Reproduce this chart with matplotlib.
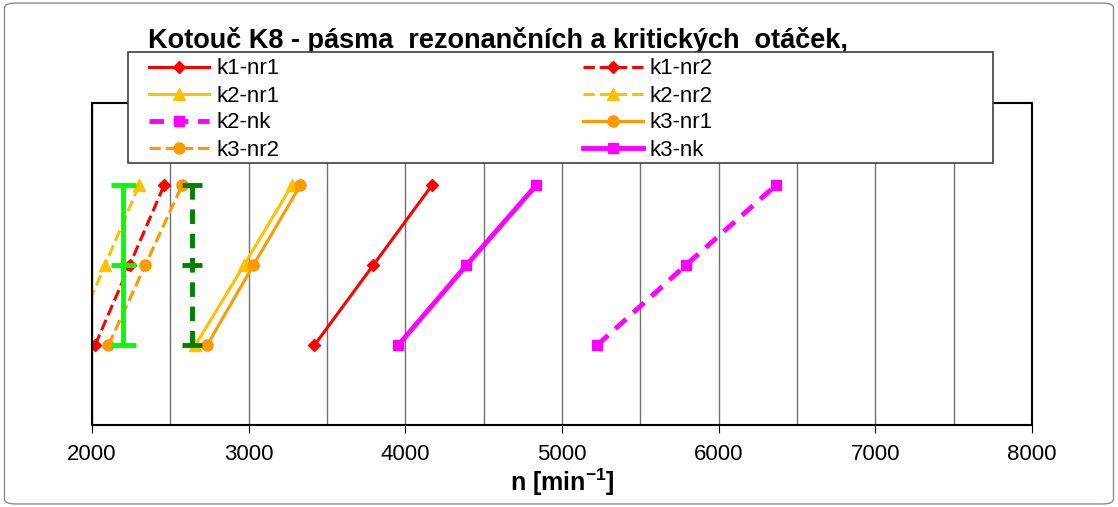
import matplotlib.pyplot as plt
from matplotlib.patches import FancyBboxPatch, Rectangle

plt.rcParams['font.family'] = ['Liberation Sans', 'DejaVu Sans']
plt.rcParams['mathtext.default'] = 'regular'

# hladiny (osa y bez popisků)
levels = [1, 2, 3]

# otáčky [min-1] pro jednotlivé řady
k1_nr1 = [3420, 3795, 4170]
k1_nr2 = [2020, 2240, 2460]
k2_nr1 = [2660, 2970, 3275]
k2_nr2 = [1865, 2083, 2300]
k2_nk = [5225, 5790, 6365]
k3_nr1 = [2735, 3030, 3330]
k3_nr2 = [2105, 2340, 2575]
k3_nk = [3955, 4390, 4835]

# svislé úsečky (provozní otáčky)
n_green = 2200
n_darkgreen = 2640

fig = plt.figure(figsize=(11.18, 5.07), dpi=100)
ax = fig.add_axes([92/1118, 1-425/507, (1032-92)/1118, (425-103)/507])

red = '#FF0000'
yellow = '#FFC000'
magenta = '#FF00FF'
orange = '#FF9900'

h = {}
h['k1-nr1'], = ax.plot(k1_nr1, levels, '-', color=red, lw=2.2, marker='D', ms=6)
h['k1-nr2'], = ax.plot(k1_nr2, levels, '--', color=red, lw=2.2, marker='D', ms=6)
h['k2-nr1'], = ax.plot(k2_nr1, levels, '-', color=yellow, lw=2.2, marker='^', ms=8)
h['k2-nr2'], = ax.plot(k2_nr2, levels, '--', color=yellow, lw=2.2, marker='^', ms=8)
h['k2-nk'], = ax.plot(k2_nk, levels, '--', color=magenta, lw=3.5, marker='s', ms=7, dashes=(3, 2))
h['k3-nr1'], = ax.plot(k3_nr1, levels, '-', color=orange, lw=2.2, marker='o', ms=8)
h['k3-nr2'], = ax.plot(k3_nr2, levels, '--', color=orange, lw=2.2, marker='o', ms=8)
h['k3-nk'], = ax.plot(k3_nk, levels, '-', color=magenta, lw=3.5, marker='s', ms=7)

ax.plot([n_green] * 3, levels, '-', color='#00FF00', lw=3.5,
        marker='_', ms=18, mew=3.5)
ax.plot([n_darkgreen] * 3, levels, '--', color='#008000', lw=3.5,
        marker='_', ms=14, mew=3.5, dashes=(3, 2))

ax.set_xlim(2000, 8000)
ax.set_ylim(0, 4.03)
ax.set_xticks(range(2000, 8001, 1000))
ax.set_xticks(range(2500, 8000, 1000), minor=True)
ax.set_yticks([])
ax.grid(True, axis='x', which='both', color='#707070', lw=1)
ax.tick_params(axis='x', which='major', direction='out', length=6, labelsize=16, pad=8)
ax.tick_params(axis='x', which='minor', length=0)
for s in ax.spines.values():
    s.set_linewidth(1.5)
ax.set_xlabel('n [min$^{-1}$]', fontsize=18, fontweight='bold', labelpad=1)

# rámeček legendy
fig.patches.append(Rectangle((128/1118, 1-163/507), (993-128)/1118, (163-52)/507,
                             transform=fig.transFigure, facecolor='white',
                             edgecolor='#404040', lw=1.2, zorder=5))

order = ['k1-nr1', 'k2-nr1', 'k2-nk', 'k3-nr2', 'k1-nr2', 'k2-nr2', 'k3-nr1', 'k3-nk']
leg = fig.legend([h[k] for k in order], order, ncol=2, mode='expand',
                 bbox_to_anchor=(145/1118, 1-165/507, (717-145)/1118, (163-52)/507),
                 loc='center left', fontsize=16, frameon=False,
                 borderaxespad=0, handlelength=2.7, handletextpad=0.3,
                 labelspacing=0.27, borderpad=0.2)
leg.set_zorder(6)

fig.text(148/1118, 1-40/507, 'Kotouč K8 - pásma  rezonančních a kritických  otáček,',
         fontsize=19.5, fontweight='bold', va='center', ha='left')

fig.patches.append(FancyBboxPatch((0.004, 0.006), 0.992, 0.988, boxstyle='round,pad=0,rounding_size=0.01',
                                  transform=fig.transFigure, fill=False, edgecolor='#8c8c8c', lw=1))

fig.savefig('out.png', dpi=100)
